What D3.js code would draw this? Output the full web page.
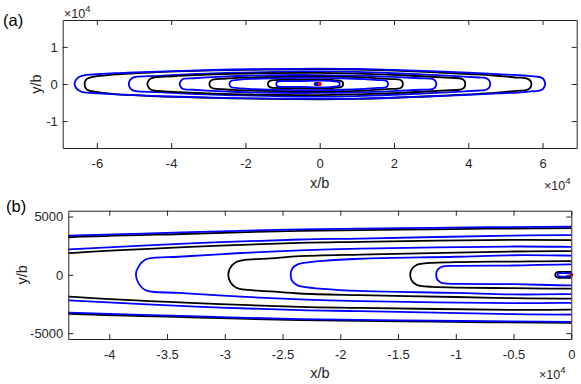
<!DOCTYPE html>
<html>
<head>
<meta charset="utf-8">
<script src="https://cdn.jsdelivr.net/npm/d3@7"></script>
<style>
body{margin:0;background:#fff;}
svg{font-family:"Liberation Sans",Arial,sans-serif;}
</style>
</head>
<body>
<div id="viz"></div>
<script>
// contour outlines, upper half only: [x (in 1e4 b), y (in b)]; lower half is the mirror
var blue1 = [[-6.60,0],[-6.56,1100],[-6.47,1900],[-6.35,2300],[-6.10,2500],[-5.50,2850],[-5.00,3050],[-4.35,3300],[-3.30,3600],[-2.35,3850],[-1.20,3980],[0,4080],[1,4000],[2,3750],[3,3400],[4,3000],[4.8,2600],[5.4,2300],[5.7,2050],[5.88,1900],[5.98,1600],[6.04,1000],[6.07,0]];
var black1 = [[-6.33,0],[-6.30,1050],[-6.24,1600],[-6.14,1900],[-5.90,2250],[-5.50,2650],[-5.00,2950],[-4.35,3280],[-3.30,3580],[-2.35,3830],[-1.20,3960],[0,4060],[1,3950],[2,3650],[3,3250],[4,2750],[4.7,2350],[5.3,1800],[5.53,1650],[5.63,1300],[5.68,800],[5.70,0]];
var blue2 = [[-5.14,0],[-5.11,1000],[-5.04,1650],[-4.95,1900],[-4.35,2190],[-3.30,2700],[-2.35,3030],[-1.83,3110],[-0.5,3370],[0,3400],[1,3250],[2,2900],[3,2450],[3.8,2050],[4.3,1750],[4.42,1700],[4.52,1350],[4.57,850],[4.59,0]];
var black2 = [[-4.64,0],[-4.61,900],[-4.55,1500],[-4.47,1750],[-4.35,1860],[-3.30,2400],[-2.35,2750],[-1.83,2830],[-0.5,3000],[0,2980],[1,2800],[2,2450],[3,1950],[3.55,1650],[3.76,1550],[3.85,1300],[3.90,800],[3.92,0]];
var blue3 = [[-3.77,0],[-3.745,750],[-3.69,1300],[-3.625,1450],[-3.40,1550],[-2.90,1850],[-2.35,2100],[-1.83,2250],[-0.5,2430],[0,2400],[1,2250],[2,1900],[2.7,1550],[2.99,1450],[3.08,1150],[3.12,700],[3.14,0]];
var black3 = [[-2.97,0],[-2.95,650],[-2.90,1100],[-2.845,1250],[-2.60,1420],[-2.35,1600],[-1.83,1740],[-1,1900],[-0.5,2000],[0,2030],[0.8,1900],[1.5,1600],[1.9,1300],[2.11,1250],[2.19,1000],[2.225,600],[2.24,0]];
var blue4 = [[-2.43,0],[-2.415,550],[-2.37,900],[-2.33,1000],[-2.15,1200],[-1.83,1380],[-1,1550],[-0.5,1680],[0,1650],[0.6,1550],[1.2,1300],[1.55,1050],[1.74,1000],[1.80,800],[1.83,450],[1.84,0]];
var black4 = [[-1.395,0],[-1.38,500],[-1.34,850],[-1.305,950],[-1.2,1030],[-1,1090],[-0.5,1140],[0,1175],[0.3,1100],[0.45,950],[0.54,900],[0.60,680],[0.625,380],[0.63,0]];
var blue5 = [[-1.17,0],[-1.16,400],[-1.13,650],[-1.095,740],[-1,770],[-0.5,800],[0,900],[0.3,820],[0.42,700],[0.47,650],[0.52,450],[0.535,250],[0.54,0]];
var black5 = [[-0.139,0],[-0.135,130],[-0.125,210],[-0.11,250],[-0.05,260],[0,250],[0.01,200],[0.02,120],[0.025,0]];
var blue6 = [[-0.119,0],[-0.116,80],[-0.108,130],[-0.095,145],[-0.05,150],[0,140],[0.008,110],[0.014,60],[0.016,0]];

// drawing order: the outer black loop goes under the outer blue one
var loopPts = [black1, blue1, blue2, black2, blue3, black3, blue4, black4, blue5, black5, blue6];
var loopKind = ["black","blue","blue","black","blue","black","blue","black","blue","black","blue"];
var loopShift = [-55,55,0,0,0,0,0,0,0,0,0];   // small vertical offset of loop centre (b)
var sourcePoint = [0,0];

var xTicksA = [-6,-4,-2,0,2,4,6];
var yTicksA = [-1,0,1];
var xTicksB = [-4,-3.5,-3,-2.5,-2,-1.5,-1,-0.5,0];
var yTicksB = [-5000,0,5000];

var W = 581, H = 384;
var axisColor = "#262626";
var colors = {blue:"#0000ff", black:"#000000"};

var svg = d3.select("#viz").append("svg").attr("width",W).attr("height",H);

var closedLoop = function(pts, dy){
	var upper = pts.map(function(p){ return [p[0], p[1]+dy]; });
	var lower = pts.slice(1,-1).reverse().map(function(p){ return [p[0], -p[1]+dy]; });
	return upper.concat(lower);
}

var drawPanel = function(p){
	var x = d3.scaleLinear().domain(p.xDomain).range([p.left,p.right]);
	var y = d3.scaleLinear().domain(p.yDomain).range([p.bottom,p.top]);
	var clipId = "clip-"+p.name;
	svg.append("clipPath").attr("id",clipId).append("rect")
		.attr("x",p.left).attr("y",p.top)
		.attr("width",p.right-p.left).attr("height",p.bottom-p.top);

	var line = d3.line()
		.x(function(d){ return x(d[0]); })
		.y(function(d){ return y(d[1]/p.yUnit); })
		.curve(d3.curveCatmullRomClosed.alpha(0.5));

	var g = svg.append("g").attr("clip-path","url(#"+clipId+")");
	g.selectAll(".loop")
		.data(loopPts)
		.enter()
		.append("path")
		.attr("class","loop")
		.attr("d",function(d,i){ return line(closedLoop(d,loopShift[i])); })
		.style("fill","none")
		.style("stroke",function(d,i){ return colors[loopKind[i]]; })
		.style("stroke-width",1.8)
		.style("stroke-linejoin","round");

	svg.append("circle")
		.attr("cx",x(sourcePoint[0]))
		.attr("cy",y(sourcePoint[1]))
		.attr("r",2)
		.style("fill","#ff0000");

	var fmt = function(d){ return String(d); };
	var axes = svg.append("g");
	axes.append("g").attr("transform","translate(0,"+p.bottom+")")
		.call(d3.axisBottom(x).tickValues(p.xTicks).tickSizeInner(-5).tickSizeOuter(0).tickPadding(11).tickFormat(fmt));
	axes.append("g").attr("transform","translate(0,"+p.top+")")
		.call(d3.axisTop(x).tickValues(p.xTicks).tickSizeInner(-5).tickSizeOuter(0).tickFormat(""));
	axes.append("g").attr("transform","translate("+p.left+",0)")
		.call(d3.axisLeft(y).tickValues(p.yTicks).tickSizeInner(-5).tickSizeOuter(0).tickPadding(5).tickFormat(fmt));
	axes.append("g").attr("transform","translate("+p.right+",0)")
		.call(d3.axisRight(y).tickValues(p.yTicks).tickSizeInner(-5).tickSizeOuter(0).tickFormat(""));
	axes.selectAll("path.domain").style("stroke",axisColor).style("stroke-width",1);
	axes.selectAll(".tick line").style("stroke",axisColor).style("stroke-width",1);
	axes.selectAll(".tick text")
		.style("fill",axisColor)
		.style("font-size","13px")
		.style("font-family","'Liberation Sans',Arial,sans-serif");

	// axis labels
	svg.append("text")
		.attr("x",(p.left+p.right)/2).attr("y",p.xLabelY)
		.attr("text-anchor","middle")
		.style("font-size","14.5px").style("fill",axisColor)
		.text("x/b");
	svg.append("text")
		.attr("transform","translate("+p.yLabelX+","+(p.top+p.bottom)/2+") rotate(-90)")
		.attr("text-anchor","middle")
		.style("font-size","14.5px").style("fill",axisColor)
		.text("y/b");
	svg.append("text")
		.attr("x",p.tagX).attr("y",p.tagY)
		.style("font-size","16.5px").style("fill","#000")
		.text(p.tag);

	p.exponents.forEach(function(e){
		var t = svg.append("text").attr("x",e[0]).attr("y",e[1])
			.style("font-size","12.5px").style("fill",axisColor);
		t.append("tspan").text("\u00d710");
		t.append("tspan").attr("dy",-6).style("font-size","9.5px").text("4");
	});
}

drawPanel({
	name:"a", tag:"(a)", tagX:3, tagY:26,
	left:62.7, right:576.7, top:20, bottom:148,
	xDomain:[-6.92,6.92], yDomain:[-1.725,1.725], yUnit:1e4,
	xTicks:xTicksA, yTicks:yTicksA,
	xLabelY:187.5, yLabelX:41,
	exponents:[[64,18],[544,190]]
});

drawPanel({
	name:"b", tag:"(b)", tagX:6, tagY:212,
	left:68.3, right:571.3, top:210.7, bottom:339,
	xDomain:[-4.355,0], yDomain:[-5500,5500], yUnit:1,
	xTicks:xTicksB, yTicks:yTicksB,
	xLabelY:377.5, yLabelX:27,
	exponents:[[539,379]]
});
</script>
</body>
</html>
